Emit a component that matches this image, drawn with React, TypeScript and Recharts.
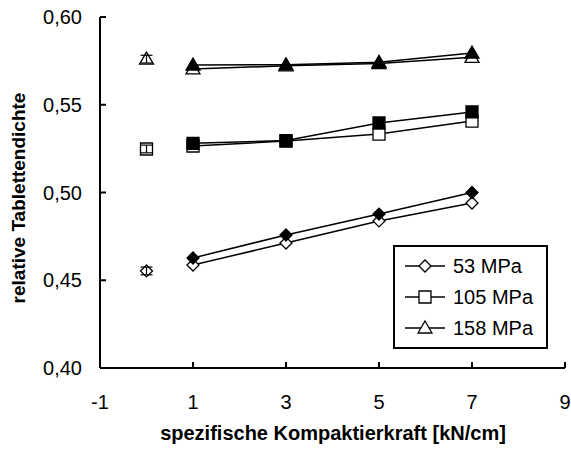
import { ComposedChart, Scatter, XAxis, YAxis, ErrorBar } from 'recharts';

const forces = [1, 3, 5, 7];
const xTicks = [-1, 1, 3, 5, 7, 9];
const yTicks = [0.4, 0.45, 0.5, 0.55, 0.6];
const pressures = ['53 MPa', '105 MPa', '158 MPa'];

// open symbols (with line), filled symbols (with line)
const open53 = [0.4587, 0.4712, 0.4838, 0.494];
const filled53 = [0.4627, 0.4758, 0.4877, 0.5];
const open105 = [0.5265, 0.5293, 0.5333, 0.5407];
const filled105 = [0.528, 0.5296, 0.5396, 0.5459];
const open158 = [0.5704, 0.5722, 0.5735, 0.577];
const filled158 = [0.5726, 0.5728, 0.5742, 0.5795];

// single points at 0 kN/cm with error bars
const startValues = [0.4553, 0.5248, 0.576];
const startErrors = [0.0022, 0.0022, 0.0022];

const toPoints = (vals: number[]) => forces.map((x, i) => ({ x, y: vals[i] }));

const FONT = '"Liberation Sans", Arial, sans-serif';

type Kind = 'diamond' | 'square' | 'triangle';

const marker = (kind: Kind, fill: string) => (props: any) => {
  const { cx, cy } = props;
  if (cx == null || cy == null) return null;
  let d = '';
  if (kind === 'diamond') d = `M${cx},${cy - 6}L${cx + 6},${cy}L${cx},${cy + 6}L${cx - 6},${cy}Z`;
  if (kind === 'square') d = `M${cx - 6},${cy - 6}H${cx + 6}V${cy + 6}H${cx - 6}Z`;
  if (kind === 'triangle') d = `M${cx},${cy - 7}L${cx + 7},${cy + 5}L${cx - 7},${cy + 5}Z`;
  return <path d={d} fill={fill} stroke="#000" strokeWidth={1.3} />;
};

const kinds: Kind[] = ['diamond', 'square', 'triangle'];
const openSeries = [open53, open105, open158];
const filledSeries = [filled53, filled105, filled158];

const YTick = (props: any) => {
  const { x, y, payload } = props;
  return (
    <g>
      <line x1={x + 18} x2={x + 24} y1={y} y2={y} stroke="#000" strokeWidth={2} />
      <text x={x} y={y} dy={7} textAnchor="end" fontFamily={FONT} fontSize={20} fill="#000">
        {Number(payload.value).toFixed(2).replace('.', ',')}
      </text>
    </g>
  );
};

const XTick = (props: any) => {
  const { x, y, payload } = props;
  return (
    <g>
      <line x1={x} x2={x} y1={y - 26} y2={y - 32} stroke="#000" strokeWidth={2} />
      <text x={x} y={y} dy={15} textAnchor="middle" fontFamily={FONT} fontSize={20} fill="#000">
        {payload.value}
      </text>
    </g>
  );
};

const LegendBox = () => (
  <div
    style={{
      position: 'absolute',
      left: 393,
      top: 245,
      width: 155,
      height: 104,
      border: '2px solid #000',
      background: '#fff',
      boxSizing: 'border-box',
      paddingTop: 3,
      fontFamily: FONT,
      fontSize: 20,
      lineHeight: '20px',
    }}
  >
    {pressures.map((p, i) => (
      <div key={p} style={{ display: 'flex', alignItems: 'center', height: 31 }}>
        <svg width={56} height={20} style={{ marginLeft: 8 }}>
          <line x1={2} x2={42} y1={10} y2={10} stroke="#000" strokeWidth={1.3} />
          {marker(kinds[i], '#fff')({ cx: 22, cy: 10 })}
        </svg>
        <span style={{ marginLeft: -6 }}>{p}</span>
      </div>
    ))}
  </div>
);

export default function App() {
  return (
    <div style={{ position: 'absolute', left: 0, top: 0, width: 571, height: 450, background: '#fff' }}>
      <ComposedChart width={571} height={450} margin={{ top: 17, right: 6, bottom: 0, left: 0 }}>
        <XAxis
          type="number"
          dataKey="x"
          domain={[-1, 9]}
          ticks={xTicks}
          interval={0}
          allowDataOverflow
          height={82}
          tickSize={0}
          tickMargin={26}
          tickLine={false}
          tick={<XTick />}
          axisLine={{ stroke: '#000', strokeWidth: 2 }}
          label={{
            content: () => (
              <text x={333} y={440} textAnchor="middle" fontFamily={FONT} fontSize={20} fontWeight="bold" fill="#000">
                spezifische Kompaktierkraft [kN/cm]
              </text>
            ),
          }}
        />
        <YAxis
          type="number"
          dataKey="y"
          domain={[0.4, 0.6]}
          ticks={yTicks}
          interval={0}
          width={100}
          tickSize={0}
          tickMargin={18}
          tickLine={false}
          tick={<YTick />}
          axisLine={{ stroke: '#000', strokeWidth: 2 }}
          label={{
            content: () => (
              <text
                x={25}
                y={198}
                transform="rotate(-90 25 198)"
                textAnchor="middle"
                fontFamily={FONT}
                fontSize={19}
                fontWeight="bold"
                fill="#000"
              >
                relative Tablettendichte
              </text>
            ),
          }}
        />
        {openSeries.map((vals, i) => (
          <Scatter
            key={`open-${i}`}
            data={toPoints(vals)}
            line={{ stroke: '#000', strokeWidth: 1.5 }}
            shape={marker(kinds[i], '#fff')}
            isAnimationActive={false}
          />
        ))}
        {filledSeries.map((vals, i) => (
          <Scatter
            key={`filled-${i}`}
            data={toPoints(vals)}
            line={{ stroke: '#000', strokeWidth: 1.5 }}
            shape={marker(kinds[i], '#000')}
            isAnimationActive={false}
          />
        ))}
        {startValues.map((v, i) => (
          <Scatter
            key={`start-${i}`}
            data={[{ x: 0, y: v, err: startErrors[i] }]}
            shape={marker(kinds[i], 'none')}
            isAnimationActive={false}
          >
            <ErrorBar dataKey="err" direction="y" width={6} stroke="#000" strokeWidth={1.2} />
          </Scatter>
        ))}
      </ComposedChart>
      <LegendBox />
    </div>
  );
}
